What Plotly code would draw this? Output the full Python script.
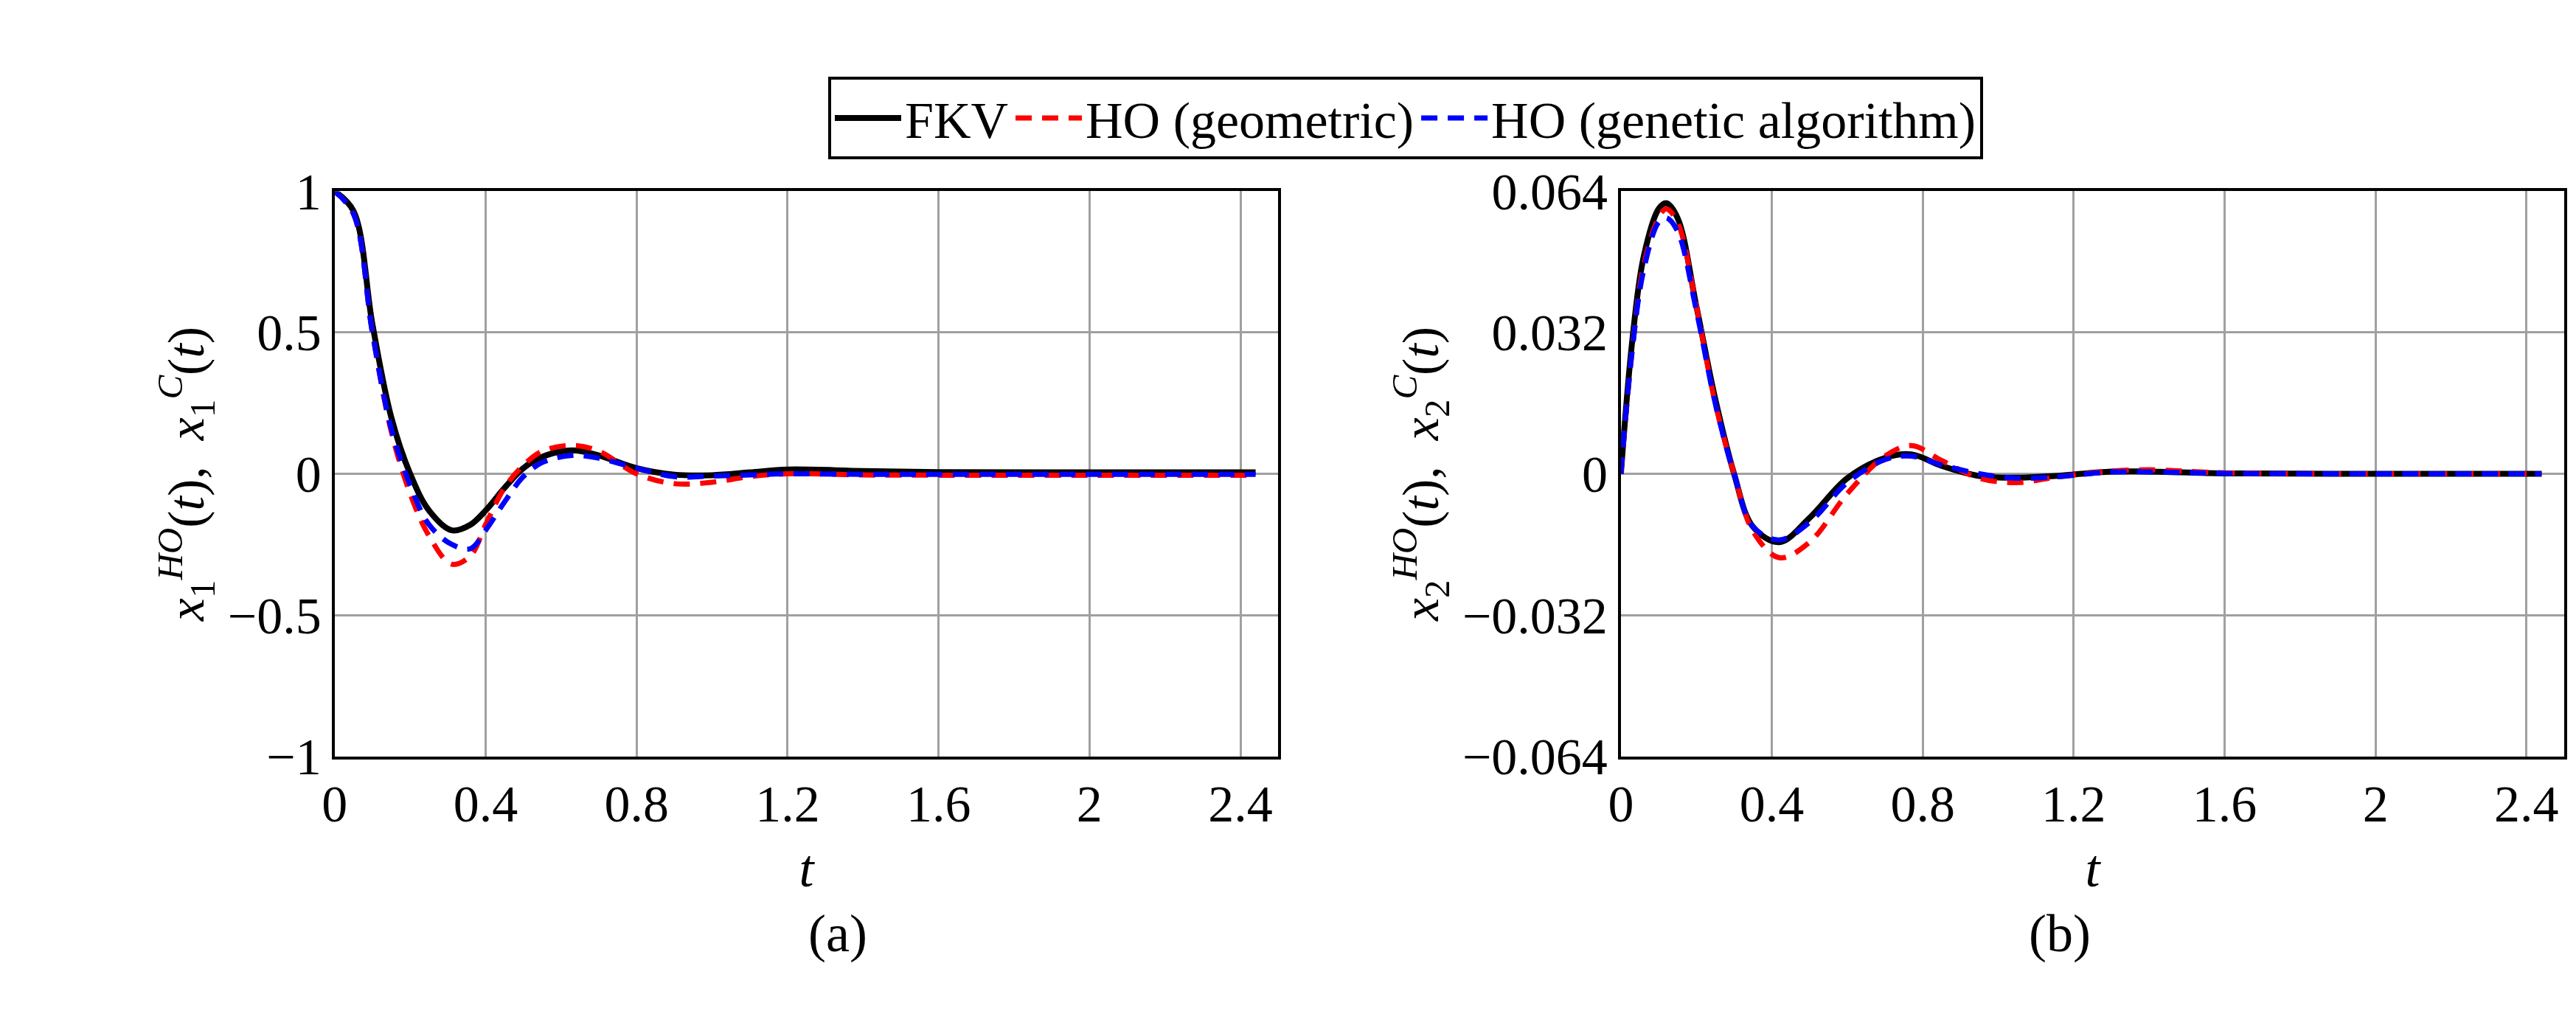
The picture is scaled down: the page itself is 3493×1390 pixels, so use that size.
import plotly.graph_objects as go

# panel (a): x1
t_a = [0, 0.05, 0.1, 0.15, 0.2, 0.25, 0.31, 0.36, 0.4, 0.45, 0.5, 0.55, 0.63, 0.7, 0.8, 0.9, 1.0, 1.1, 1.2, 1.4, 1.6, 2.0, 2.44]
fkv_a = [1, 0.93, 0.53, 0.2, 0.0, -0.13, -0.2, -0.18, -0.13, -0.05, 0.02, 0.06, 0.083, 0.065, 0.02, -0.003, -0.005, 0.005, 0.015, 0.01, 0.006, 0.005, 0.005]
geo_a = [1, 0.92, 0.5, 0.15, -0.07, -0.22, -0.32, -0.29, -0.18, -0.05, 0.03, 0.08, 0.1, 0.08, 0.0, -0.035, -0.03, -0.01, 0.0, -0.004, -0.005, -0.005, -0.005]
ga_a = [1, 0.92, 0.5, 0.16, -0.04, -0.18, -0.25, -0.265, -0.2, -0.1, -0.01, 0.04, 0.065, 0.055, 0.02, -0.01, -0.008, -0.004, 0.0, -0.002, -0.002, -0.002, -0.002]

# panel (b): x2
t_b = [0, 0.03, 0.06, 0.1, 0.12, 0.15, 0.2, 0.25, 0.3, 0.35, 0.42, 0.5, 0.6, 0.7, 0.77, 0.85, 0.95, 1.05, 1.15, 1.3, 1.4, 1.6, 2.0, 2.44]
fkv_b = [0, 0.03, 0.049, 0.06, 0.0613, 0.058, 0.038, 0.017, 0.0, -0.012, -0.0155, -0.010, -0.001, 0.0036, 0.0044, 0.0018, -0.0005, -0.0009, -0.0005, 0.0005, 0.0005, 0.0001, 0, 0]
geo_b = [0, 0.028, 0.047, 0.058, 0.060, 0.057, 0.038, 0.016, 0.0, -0.013, -0.019, -0.0155, -0.0045, 0.004, 0.0064, 0.003, -0.001, -0.002, -0.0008, 0.0006, 0.0009, 0.0002, 0, 0]
ga_b = [0, 0.028, 0.046, 0.057, 0.058, 0.055, 0.037, 0.016, 0.0, -0.012, -0.015, -0.011, -0.002, 0.0032, 0.004, 0.002, 0.0, -0.001, -0.0007, 0.0004, 0.0004, 0.0001, 0, 0]

font = "Liberation Serif"
fig = go.Figure()

def add(t, y, name, color, dash, xa, ya, show):
    fig.add_trace(go.Scatter(x=t, y=y, name=name, mode="lines", line_shape="spline",
                             line=dict(color=color, width=8 if dash == "solid" else 7, dash=dash),
                             xaxis=xa, yaxis=ya, showlegend=show))

add(t_a, fkv_a, "FKV", "black", "solid", "x", "y", True)
add(t_a, geo_a, "HO (geometric)", "red", "22px,14px", "x", "y", True)
add(t_a, ga_a, "HO (genetic algorithm)", "blue", "22px,14px", "x", "y", True)
add(t_b, fkv_b, "FKV", "black", "solid", "x2", "y2", False)
add(t_b, geo_b, "HO (geometric)", "red", "22px,14px", "x2", "y2", False)
add(t_b, ga_b, "HO (genetic algorithm)", "blue", "22px,14px", "x2", "y2", False)

grid = dict(showgrid=True, gridcolor="#a0a0a0", gridwidth=3, showline=True, linecolor="black", linewidth=4,
            mirror=True, zeroline=False, ticks="", tickfont=dict(size=70))
ax = dict(range=[0, 2.5], tickvals=[0, 0.4, 0.8, 1.2, 1.6, 2, 2.4], ticktext=["0", "0.4", "0.8", "1.2", "1.6", "2", "2.4"],
          title=dict(text="<i>t</i>", font=dict(size=72), standoff=25), **grid)
fig.update_layout(
    width=3493, height=1390, margin=dict(l=0, r=0, t=0, b=0),
    plot_bgcolor="white", paper_bgcolor="white",
    font=dict(family=font, color="black", size=70),
    xaxis=dict(domain=[0.1231, 0.4913], anchor="y", **ax),
    xaxis2=dict(domain=[0.625, 0.9931], anchor="y2", **ax),
    yaxis=dict(domain=[0.2532, 0.8367], anchor="x", range=[-1, 1], tickvals=[-1, -0.5, 0, 0.5, 1],
               ticktext=["\u22121", "\u22120.5", "0", "0.5", "1"],
               title=dict(text="<i>x</i><sub>1</sub><sup><i>HO</i></sup>(<i>t</i>),  <i>x</i><sub>1</sub><sup><i>C</i></sup>(<i>t</i>)", font=dict(size=70), standoff=10), **grid),
    yaxis2=dict(domain=[0.2532, 0.8367], anchor="x2", range=[-0.064, 0.064], tickvals=[-0.064, -0.032, 0, 0.032, 0.064],
                ticktext=["\u22120.064", "\u22120.032", "0", "0.032", "0.064"],
                title=dict(text="<i>x</i><sub>2</sub><sup><i>HO</i></sup>(<i>t</i>),  <i>x</i><sub>2</sub><sup><i>C</i></sup>(<i>t</i>)", font=dict(size=70), standoff=10), **grid),
    legend=dict(orientation="h", x=0.541, xanchor="center", y=0.955, yanchor="top", itemwidth=90,
                bordercolor="black", borderwidth=4, bgcolor="white", font=dict(size=70)),
    annotations=[
        dict(text="(a)", x=0.3072, y=0.038, xref="paper", yref="paper", showarrow=False, font=dict(size=72)),
        dict(text="(b)", x=0.809, y=0.038, xref="paper", yref="paper", showarrow=False, font=dict(size=72)),
    ],
)
fig.write_html("out.html")
